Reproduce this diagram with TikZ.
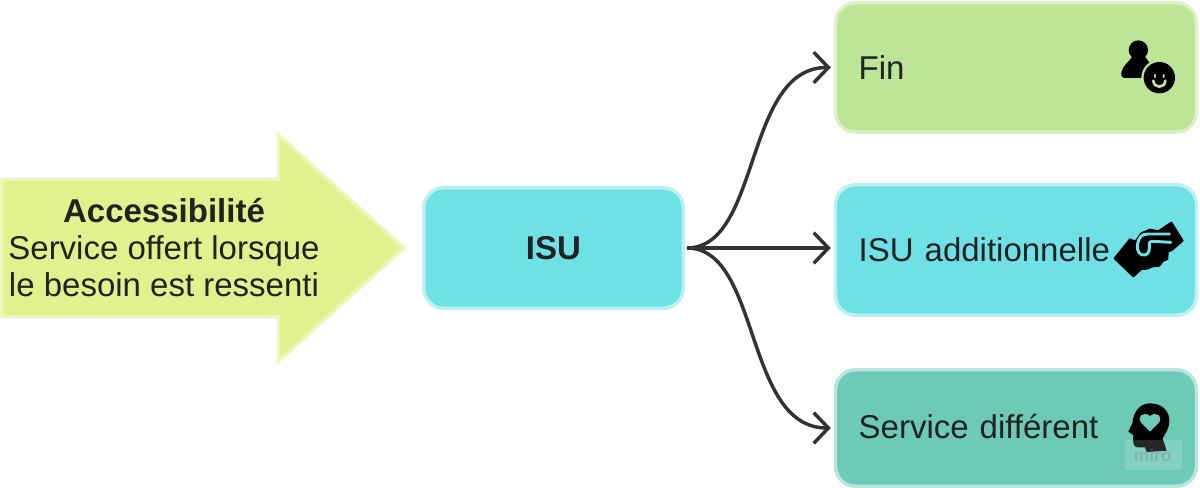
\documentclass[tikz,border=0pt]{standalone}
\usepackage{fontspec}
\setmainfont{Liberation Sans}
\usetikzlibrary{arrows.meta}
\definecolor{inkc}{HTML}{222222}
\definecolor{linkc}{HTML}{333333}
\definecolor{arrowfill}{HTML}{E1F18E}
\definecolor{arrowedge}{HTML}{ECF7BC}
\definecolor{greenfill}{HTML}{BDE596}
\definecolor{greenedge}{HTML}{DCF2C6}
\definecolor{cyanfill}{HTML}{6FE0E6}
\definecolor{cyanedge}{HTML}{BAF1F3}
\definecolor{tealfill}{HTML}{6DCAB7}
\definecolor{tealedge}{HTML}{BAE7DD}
\tikzset{
  lbl/.style={text=inkc,font=\fontsize{24.75pt}{27.75pt}\selectfont},
  card/.style={rounded corners=15pt,line width=2.6pt,inner sep=0pt,lbl,text height=19.5pt,text depth=2pt},
  optcard/.style={card,minimum width=270.75pt,text width=236pt,align=left},
  link/.style={draw=linkc,line width=2.6pt,-{Straight Barb[length=11pt,width=23pt,line width=2.6pt]},shorten >=2.25pt,shorten <=1.5pt}
}
\begin{document}
\begin{tikzpicture}[x=.75pt,y=-.75pt]
\useasboundingbox (0,0) rectangle (1200,488);
% big arrow
\path[fill=arrowfill,draw=arrowedge,line width=2.6pt,line join=miter]
  (1.5,179.5) -- (278.5,179.5) -- (278.5,135) -- (404,248) -- (278.5,361) -- (278.5,316.5) -- (1.5,316.5) -- cycle;
\node[lbl,align=center] (access) at (164,247.5) {\textbf{Accessibilité}\\Service offert lorsque\\le besoin est ressenti};
% boxes
\node[card,fill=cyanfill,draw=cyanedge,minimum width=194.6pt,minimum height=90.4pt,font=\fontsize{24.75pt}{27.75pt}\selectfont\bfseries] (isu) at (553.5,248) {ISU};
\node[optcard,fill=greenfill,draw=greenedge,minimum height=97.1pt] (fin) at (1016,67.5) {Fin};
\node[optcard,fill=cyanfill,draw=cyanedge,minimum height=97.9pt] (add) at (1016,250) {ISU additionnelle};
\node[optcard,fill=tealfill,draw=tealedge,minimum height=87.4pt,text height=18pt,text depth=3pt] (diff) at (1016,428) {Service différent};
% connectors
\draw[link] (isu.east) .. controls +(76,0) and +(-90,0) .. (fin.west);
\draw[link] (isu.east) -- (add.west |- isu.east);
\draw[link] (isu.east) .. controls +(76,0) and +(-90,0) .. (diff.west);
% person + smiley
\begin{scope}[shift={(1100,40)},x=.25pt,y=-.25pt]
  \fill[black] (115,30) ellipse (29 and 29);
  \fill[black,draw=black,line width=2pt,line join=round] (98,55) .. controls (90,68) and (72,78) .. (68,98) .. controls (66,106) and (68,110) .. (74,110) -- (128,110) -- (150,78) -- (134,55) -- cycle;
  \fill[greenfill] (178,113) circle (54);
  \fill[black] (178,113) circle (47);
  \fill[greenfill] (165,108) ellipse (3 and 6);
  \fill[greenfill] (191,108) ellipse (3 and 6);
  \draw[greenfill,line width=2pt,line cap=round] (160,122) .. controls (161,146) and (195,146) .. (196,122);
\end{scope}
% handshake
\begin{scope}[shift={(1100,210)},x=.25pt,y=-.25pt]
  \fill[black,draw=black,line width=1.5pt,line join=round] (44,145) -- (90,88) -- (106,95) -- (124,70) -- (150,59) -- (175,64) -- (214,38) -- (248,92) -- (214,121) -- (203,124) -- (202,147) -- (188,153) -- (178,167) -- (158,169) -- (138,177) -- (124,177) -- (100,199) -- cycle;
  \draw[cyanfill,line width=2.2pt,line cap=round,line join=round] (208,72) -- (145,72) .. controls (125,72) and (118,80) .. (113,100) .. controls (108,125) and (120,137) .. (135,135) .. controls (150,132) and (148,115) .. (148,100) .. controls (148,96) and (152,94) .. (160,94) -- (212,97);
\end{scope}
% head with heart
\begin{scope}[shift={(1100,390)},x=.25pt,y=-.25pt]
  \fill[black] (150,40) .. controls (185,40) and (208,62) .. (208,92) .. controls (208,118) and (195,130) .. (188,145) -- (200,182) -- (140,186) -- (135,172) -- (112,172) .. controls (100,170) and (98,160) .. (100,135) -- (85,125) -- (97,100) .. controls (100,65) and (120,40) .. (150,40) -- cycle;
  \fill[tealfill] (150,125) -- (125,100) .. controls (108,80) and (130,62) .. (150,78) .. controls (170,62) and (192,80) .. (175,100) -- cycle;
  % watermark
  \fill[white,opacity=.15] (75,150) rectangle (245,240);
  \node[text=gray,opacity=.35,font=\bfseries\fontsize{13pt}{13pt}\selectfont,inner sep=0pt] (wm) at (158,195) {miro};
\end{scope}
\end{tikzpicture}
\end{document}
